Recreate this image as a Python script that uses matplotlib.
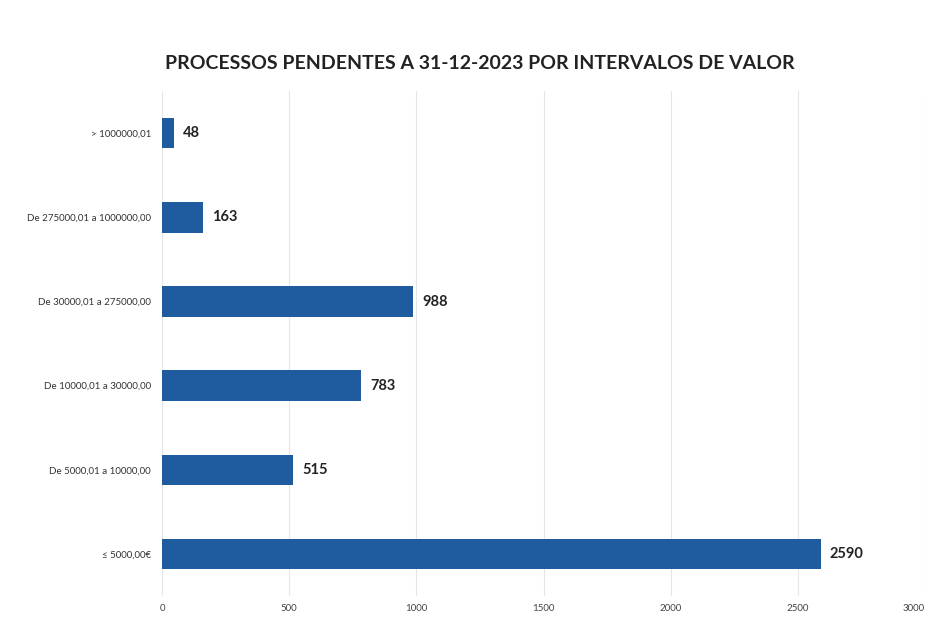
import matplotlib
matplotlib.use("Agg")
import matplotlib.pyplot as plt

categories = [
    "≤ 5000,00€",
    "De 5000,01 a 10000,00",
    "De 10000,01 a 30000,00",
    "De 30000,01 a 275000,00",
    "De 275000,01 a 1000000,00",
    "> 1000000,01",
]
values = [2590, 515, 783, 988, 163, 48]
xticks = [0, 500, 1000, 1500, 2000, 2500, 3000]

plt.rcParams["font.family"] = ["Lato", "DejaVu Sans"]

fig = plt.figure(figsize=(9.29, 6.2), dpi=100)
ax = fig.add_axes([0.1744, 0.0387, 0.8213, 0.8143])

bars = ax.barh(range(len(categories)), values, height=0.36, color="#1f5b9f")
ax.set_yticks(range(len(categories)))
ax.set_yticklabels(categories, fontsize=7, color="#333333")
ax.set_ylim(-0.5, len(categories) - 0.5)

ax.set_xlim(0, 3000)
ax.set_xticks(xticks)
ax.set_xticklabels([str(t) for t in xticks], fontsize=7, color="#444444")
ax.tick_params(axis="both", length=0)
ax.tick_params(axis="x", pad=6)
ax.tick_params(axis="y", pad=8)
# last tick sits on the figure edge, keep its label inside
ax.get_xticklabels()[-1].set_horizontalalignment("right")

ax.grid(axis="x", color="#e6e6e6", linewidth=0.8)
ax.set_axisbelow(True)
for side in ax.spines.values():
    side.set_visible(False)

# value labels at the end of each bar
for bar, v in zip(bars, values):
    ax.text(bar.get_width() + 35, bar.get_y() + bar.get_height() / 2, str(v),
            ha="left", va="center", fontsize=10.5, fontweight="bold", color="#222222")

fig.text(0.516, 0.898, "PROCESSOS PENDENTES A 31-12-2023 POR INTERVALOS DE VALOR",
         ha="center", va="center", fontsize=14, fontweight="bold", color="#222222")

fig.savefig("out.png", dpi=100)
